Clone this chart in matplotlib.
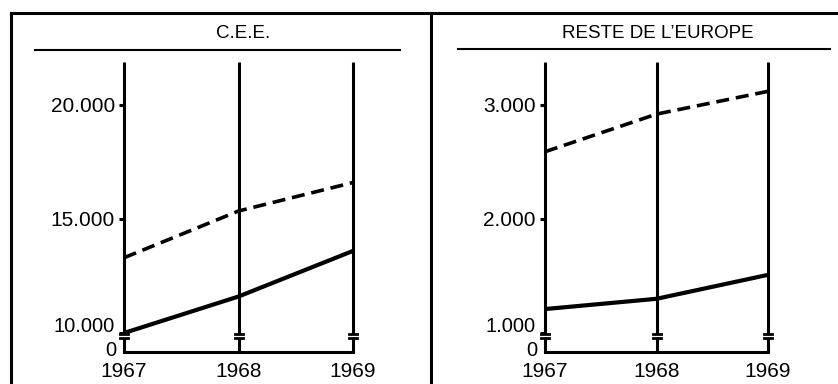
import matplotlib
matplotlib.use('Agg')
import matplotlib.pyplot as plt
from matplotlib.lines import Line2D
from matplotlib.transforms import ScaledTranslation

plt.rcParams['font.family'] = ['Liberation Sans', 'DejaVu Sans']

years = [1967, 1968, 1969]
year_labels = ['1967', '1968', '1969']

# C.E.E.
cee_dashed = [13300, 15350, 16600]
cee_solid = [10000, 11600, 13600]
cee_ticks = [10000, 15000, 20000]
cee_ticklabels = ['10.000', '15.000', '20.000']

# Reste de l'Europe
eur_dashed = [2590, 2920, 3120]
eur_solid = [1210, 1300, 1510]
eur_ticks = [1000, 2000, 3000]
eur_ticklabels = ['1.000', '2.000', '3.000']

W, H = 838, 384
fig = plt.figure(figsize=(W / 100, H / 100), dpi=100)

def fx(px):
    return px / W

def fy(py):
    return 1 - py / H

# pixel layout of the plot boxes
TOP, BASE = 62, 352
BREAK_HI, BREAK_LO = 334, 338

def panel(x0, x1, title, tx, dashed, solid, ticks, ticklabels, t_lo_px, t_hi_px):
    ax = fig.add_axes([fx(x0), fy(BASE), fx(x1) - fx(x0), fy(TOP) - fy(BASE)])
    # y limits so that ticks[0] sits at t_lo_px and ticks[-1] at t_hi_px
    per_px = (ticks[-1] - ticks[0]) / (t_lo_px - t_hi_px)
    lo = ticks[0] - (BASE - t_lo_px) * per_px
    hi = ticks[-1] + (t_hi_px - TOP) * per_px
    ax.set_xlim(1967, 1969)
    ax.set_ylim(lo, hi)

    def val(p):
        return lo + (BASE - p) * per_px

    dx = 4 / (x1 - x0) * 2
    for yr in years:
        ax.plot([yr, yr], [val(BREAK_HI), hi], color='black', lw=2.2, clip_on=False, solid_capstyle='butt')
        ax.plot([yr, yr], [lo, val(BREAK_LO)], color='black', lw=2.2, clip_on=False, solid_capstyle='butt')
        for b in (BREAK_HI, BREAK_LO):
            ax.plot([yr - dx, yr + dx], [val(b), val(b)], color='black', lw=2.0, clip_on=False)
    ax.plot([1967, 1969], [lo, lo], color='black', lw=2.2, clip_on=False, solid_capstyle='projecting')

    ax.plot(years, solid, color='black', lw=3.0, clip_on=False, solid_capstyle='butt')
    ax.plot(years, dashed, color='black', lw=2.6, dashes=(3.6, 1.9), clip_on=False)

    for s in ax.spines.values():
        s.set_visible(False)
    ax.set_yticks(ticks)
    ax.set_yticklabels([''] + ticklabels[1:])
    ax.tick_params(axis='y', length=3.5, width=2.2, pad=3, labelsize=15, color='black')
    ax.set_xticks(years)
    ax.set_xticklabels(year_labels)
    ax.tick_params(axis='x', length=0, pad=7, labelsize=15)

    # lowest tick label and the "0" are squeezed together near the break
    off = ax.get_yaxis_transform() + ScaledTranslation(-6.5 / 72, 5 / 72, fig.dpi_scale_trans)
    ax.text(0, ticks[0], ticklabels[0], transform=off, ha='right', va='center', fontsize=14.5)
    ax.text(-0.032, val(350), '0', transform=ax.get_yaxis_transform(), ha='right', va='center', fontsize=14.5)
    ax.patch.set_visible(False)

    fig.text(fx(tx), fy(33), title, ha='center', va='center', fontsize=13.5)

panel(124, 353, 'C.E.E.', 243, cee_dashed, cee_solid, cee_ticks, cee_ticklabels, 333, 105)
panel(545, 768, 'RESTE DE L\u2019EUROPE', 658, eur_dashed, eur_solid, eur_ticks, eur_ticklabels, 333, 105)

# frame, divider and title rules
def fline(x0, y0, x1, y1, lw):
    fig.add_artist(Line2D([fx(x0), fx(x1)], [fy(y0), fy(y1)], color='black', lw=lw, solid_capstyle='projecting'))

fline(11, 13, 838, 13, 2.2)
fline(11, 13, 11, 384, 2.2)
fline(431, 13, 431, 384, 2.2)
fline(35, 50, 400, 50, 1.5)
fline(458, 49, 830, 49, 1.5)

fig.savefig('out.png', dpi=100, facecolor='white')
